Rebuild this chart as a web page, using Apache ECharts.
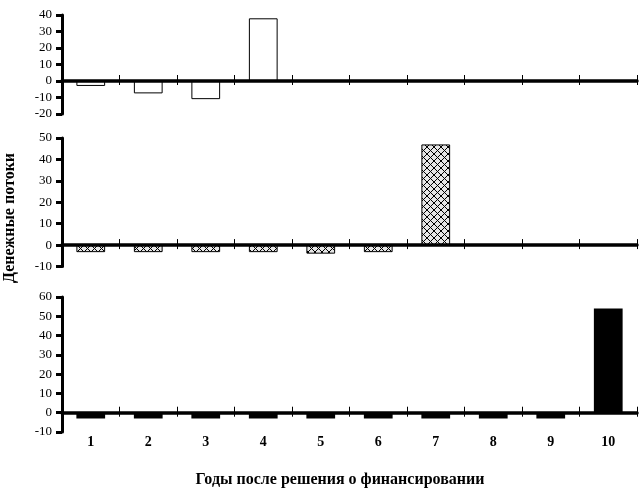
<!DOCTYPE html>
<html>
<head>
<meta charset="utf-8">
<script src="https://cdn.jsdelivr.net/npm/echarts@6/dist/echarts.min.js"></script>
<style>html,body{margin:0;padding:0;background:#fff}#c{width:640px;height:489px}</style>
</head>
<body>
<div id="c"></div>
<script>
// Data
var years = ['1','2','3','4','5','6','7','8','9','10'];
var flowsA = [-3, -7.5, -11, 38, null, null, null, null, null, null];
var flowsB = [-3.3, -3.3, -3.3, -3.3, -4, -3.3, 47, null, null, null];
var flowsC = [-3, -3, -3, -3, -3, -3, -3, -3, -3, 54];
var yRanges = [[-20, 40], [-10, 50], [-10, 60]];
var xTitle = 'Годы после решения о финансировании';
var yTitle = 'Денежные потоки';

// hatch pattern
var pc = document.createElement('canvas');
pc.width = 7; pc.height = 7;
var g = pc.getContext('2d');
g.fillStyle = '#e6e6e6'; g.fillRect(0, 0, 7, 7);
g.strokeStyle = '#000'; g.lineWidth = 1;
g.beginPath(); g.moveTo(0, 0); g.lineTo(7, 7); g.moveTo(7, 0); g.lineTo(0, 7); g.stroke();

var serif = '"Liberation Serif", "DejaVu Serif", serif';
var grids = [
  {left: 62, right: 3, top: 15, height: 99},
  {left: 62, right: 3, top: 138, height: 128.5},
  {left: 62, right: 3, top: 297, height: 135}
];
var xAxes = [], yAxes = [], series = [];
var styles = [
  {color: '#fff', borderColor: '#000', borderWidth: 1},
  {color: {image: pc, repeat: 'repeat'}, borderColor: '#000', borderWidth: 1},
  {color: '#000'}
];
var datas = [flowsA, flowsB, flowsC];
for (var i = 0; i < 3; i++) {
  xAxes.push({
    type: 'category', gridIndex: i, data: years, z: 5, position: 'bottom',
    axisLine: {onZero: true, onZeroAxisIndex: i, lineStyle: {color: '#000', width: 3.5}},
    axisTick: {show: true, inside: false, length: 4, lineStyle: {color: '#000', width: 1}},
    axisLabel: {show: false}
  });
  xAxes.push({
    type: 'category', gridIndex: i, data: years, z: 5, position: 'bottom',
    axisLine: {onZero: true, onZeroAxisIndex: i, show: true, lineStyle: {color: 'rgba(0,0,0,0)', width: 0}},
    axisTick: {show: true, inside: true, length: 6, lineStyle: {color: '#000', width: 1}},
    axisLabel: {show: false}
  });
  yAxes.push({
    type: 'value', gridIndex: i, min: yRanges[i][0], max: yRanges[i][1], interval: 10,
    splitLine: {show: false},
    axisLine: {show: true, lineStyle: {color: '#000', width: 3}},
    axisTick: {show: true, inside: false, length: 6, lineStyle: {color: '#000', width: 3}},
    axisLabel: {color: '#000', fontFamily: serif, fontSize: 13, margin: 10}
  });
}
// bottom label axis for third panel
xAxes.push({
  type: 'category', gridIndex: 2, data: years, position: 'bottom',
  axisLine: {show: false, onZero: false}, axisTick: {show: false},
  axisLabel: {color: '#000', fontFamily: serif, fontSize: 14, fontWeight: 'bold', margin: 3}
});
for (var j = 0; j < 3; j++) {
  series.push({
    type: 'bar', xAxisIndex: j * 2, yAxisIndex: j, data: datas[j],
    barWidth: '50%', itemStyle: styles[j], silent: true, animation: false
  });
}

var chart = echarts.init(document.getElementById('c'), null, {renderer: 'canvas'});
chart.setOption({
  animation: false,
  backgroundColor: '#fff',
  grid: grids,
  xAxis: xAxes,
  yAxis: yAxes,
  series: series,
  title: [{
    text: xTitle, left: 335, top: 467, textAlign: 'center',
    textStyle: {fontFamily: serif, fontSize: 16, fontWeight: 'bold', color: '#000'}
  }],
  graphic: [{
    type: 'text', rotation: Math.PI / 2, x: 10, y: 218,
    style: {text: yTitle, fontFamily: serif, fontSize: 16, fontWeight: 'bold', fill: '#000', align: 'center', verticalAlign: 'middle'}
  }]
});
</script>
</body>
</html>
